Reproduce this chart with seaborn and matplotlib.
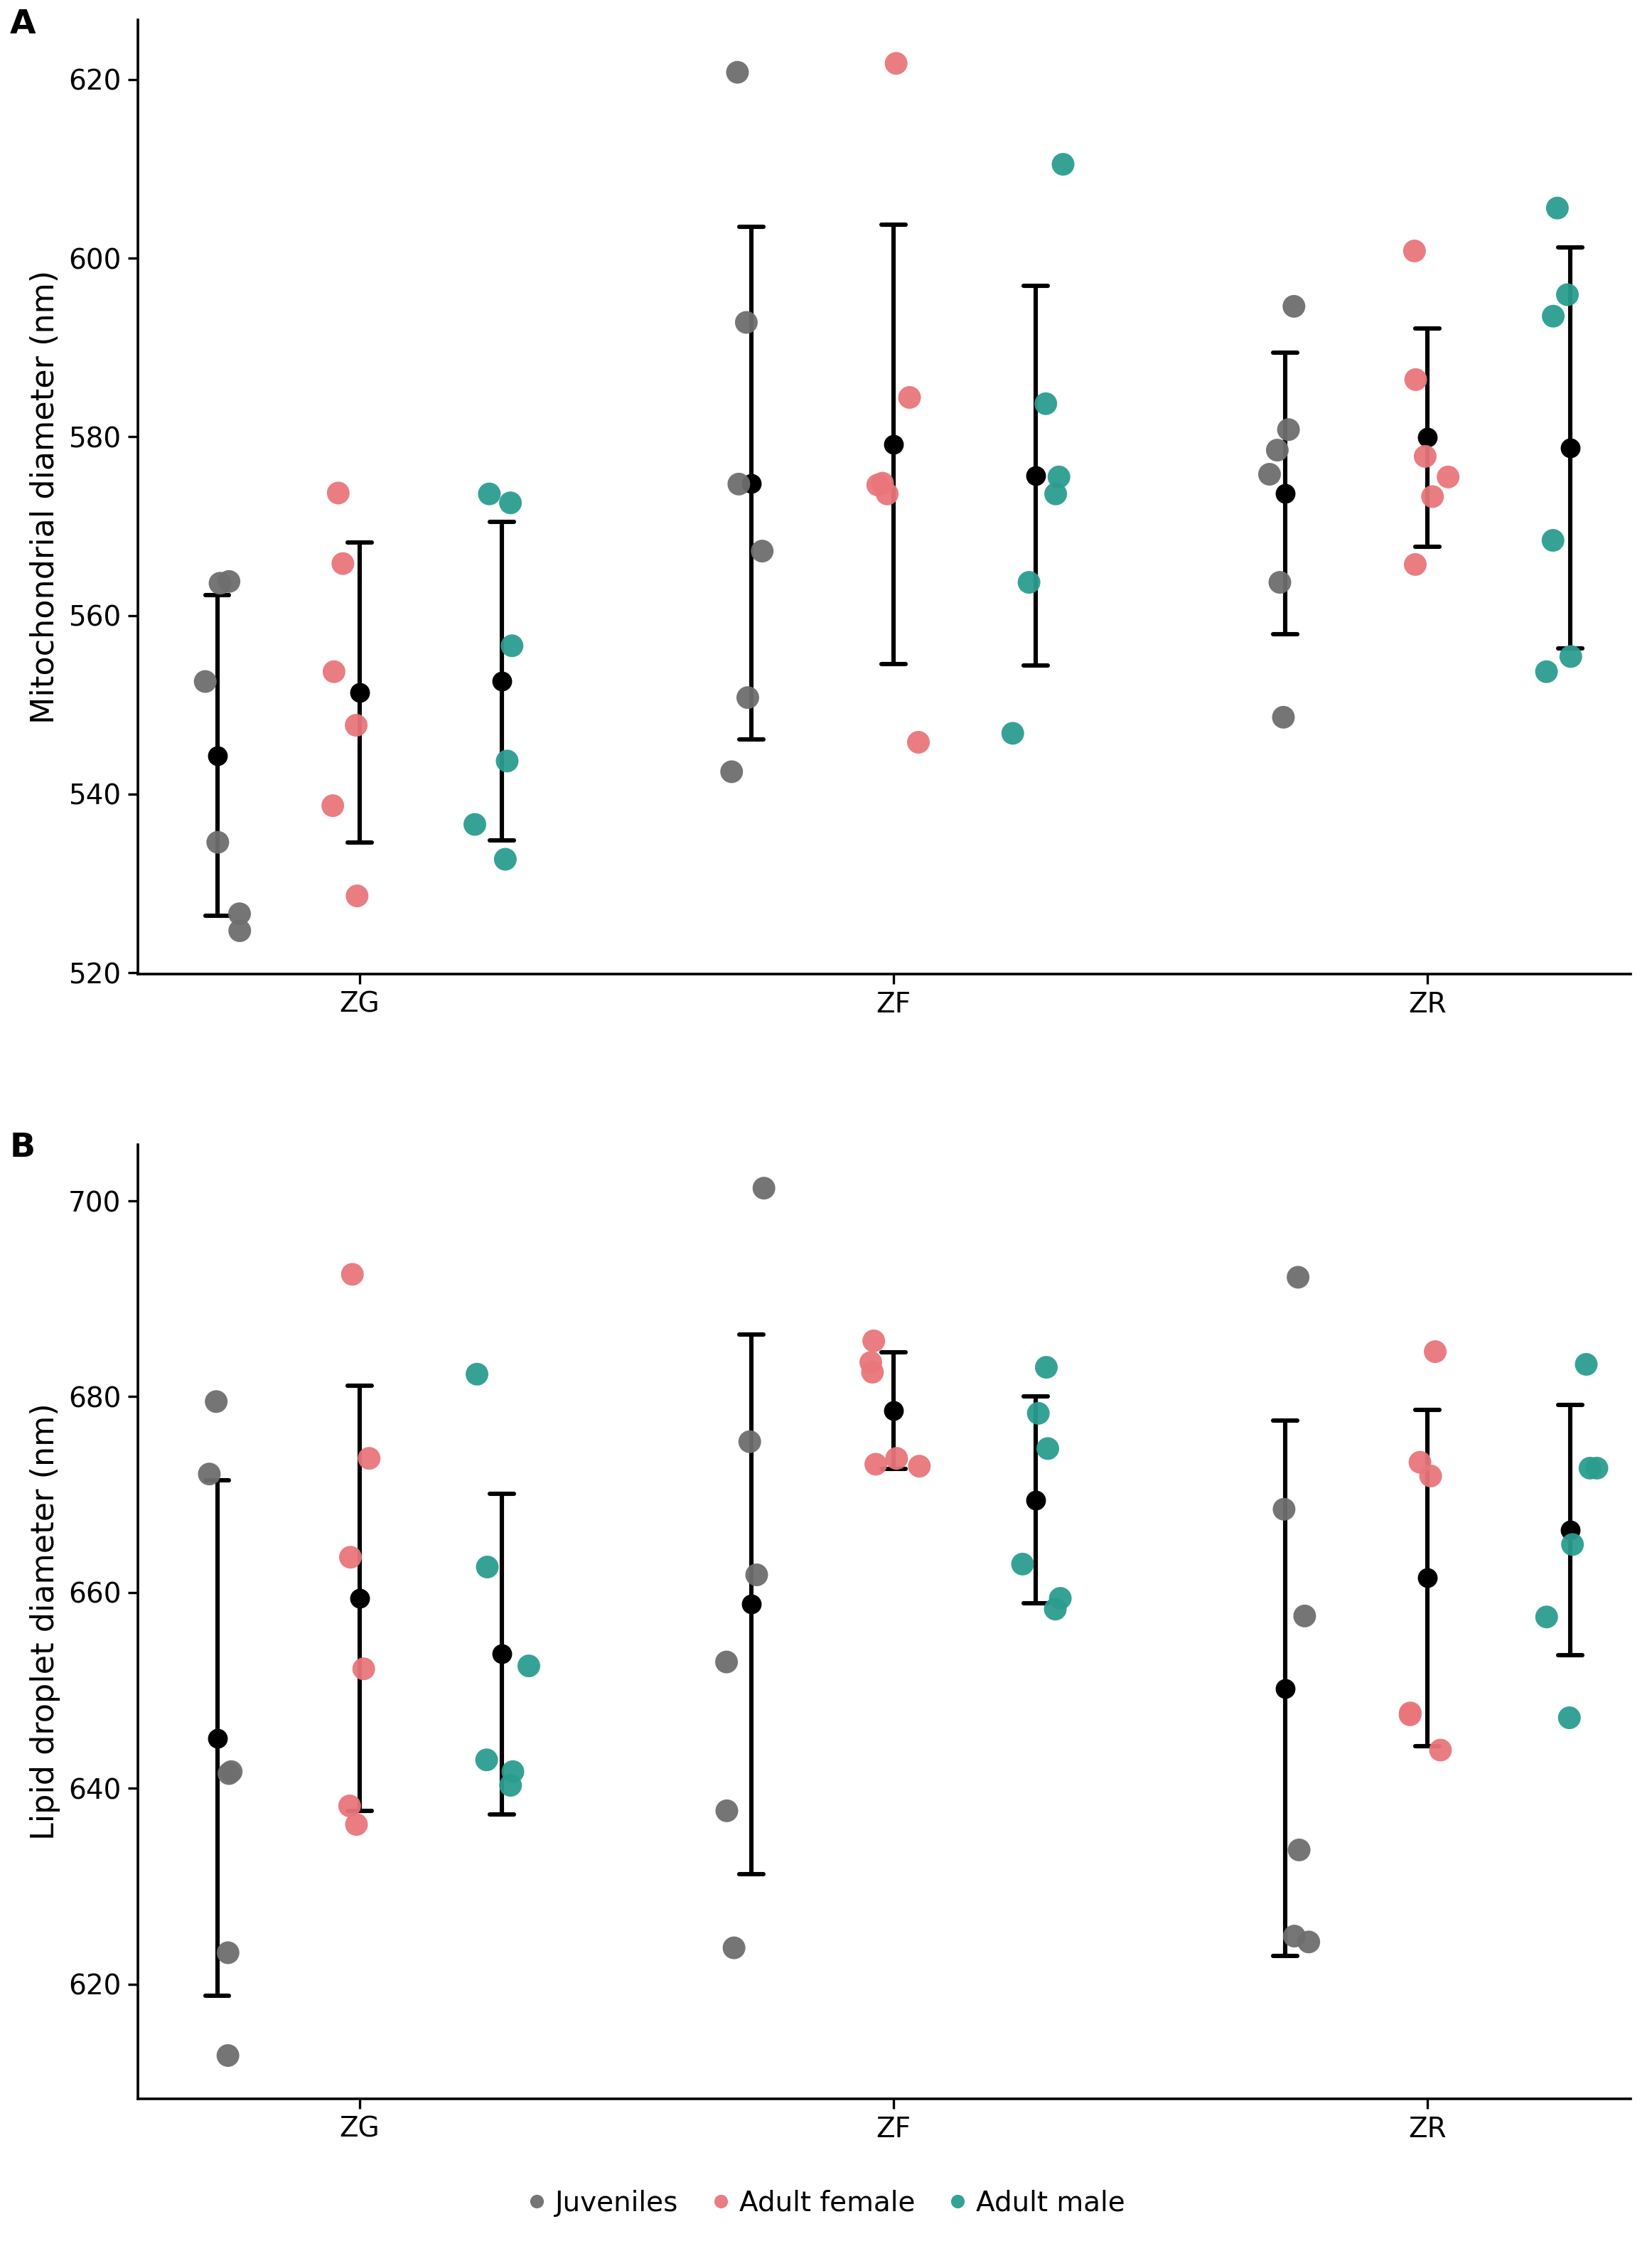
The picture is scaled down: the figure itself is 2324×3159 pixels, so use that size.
import numpy as np
import pandas as pd
import matplotlib.pyplot as plt
import seaborn as sns

sites = ["ZG", "ZF", "ZR"]
groups = ["Juveniles", "Adult female", "Adult male"]
colors = ["#6e6e6e", "#e8767a", "#2a9d8f"]

# mitochondrial diameter (nm), 6 animals per site: ZG, ZF, ZR
mito_juveniles = [563.6, 563.8, 552.6, 534.6, 526.6, 524.7,
                  620.8, 592.8, 574.7, 567.2, 550.8, 542.5,
                  594.6, 580.8, 578.5, 575.8, 563.7, 548.6]
mito_female = [573.7, 565.8, 553.7, 547.7, 538.7, 528.6,
               621.8, 584.4, 574.8, 574.6, 573.6, 545.8,
               600.8, 586.4, 577.8, 575.5, 573.3, 565.7]
mito_male = [572.6, 573.6, 556.6, 543.7, 536.6, 532.7,
             610.5, 583.7, 575.5, 573.6, 563.7, 546.8,
             605.6, 595.9, 593.5, 568.4, 555.4, 553.7]

# lipid droplet diameter (nm)
lipid_juveniles = [679.5, 672.1, 641.5, 641.7, 623.2, 612.7,
                   701.3, 675.4, 661.8, 652.9, 637.7, 623.7,
                   692.2, 668.5, 657.6, 633.7, 624.9, 624.3]
lipid_female = [692.5, 673.7, 663.6, 652.2, 638.2, 636.3,
                685.7, 683.5, 682.5, 673.7, 673.1, 672.9,
                684.6, 673.3, 671.9, 647.7, 647.5, 643.9]
lipid_male = [682.3, 662.6, 652.5, 642.9, 641.7, 640.3,
              683.0, 678.3, 674.7, 662.9, 659.4, 658.3,
              683.3, 672.7, 672.7, 664.9, 657.5, 647.2]


def make_df(juv, fem, male):
    frames = []
    for g, vals in zip(groups, [juv, fem, male]):
        frames.append(pd.DataFrame({"site": np.repeat(sites, 6),
                                    "group": g,
                                    "value": vals}))
    return pd.concat(frames, ignore_index=True)


df_mito = make_df(mito_juveniles, mito_female, mito_male)
df_lipid = make_df(lipid_juveniles, lipid_female, lipid_male)

sns.set_style("ticks")
plt.rcParams['font.family'] = ['DejaVu Sans']
plt.rcParams.update({"text.color": "black", "axes.labelcolor": "black",
                     "xtick.color": "black", "ytick.color": "black",
                     "axes.edgecolor": "black"})

fig = plt.figure(figsize=(11.62, 15.795), dpi=200)
ax_a = fig.add_axes([0.0835, 0.5663, 0.9035, 0.4248])
ax_b = fig.add_axes([0.0835, 0.0655, 0.9035, 0.4248])

np.random.seed(3)
panels = [(ax_a, df_mito, "Mitochondrial diameter (nm)", "A", 0.989),
          (ax_b, df_lipid, "Lipid droplet diameter (nm)", "B", 0.489)]

for ax, df, ylabel, letter, ly in panels:
    sns.stripplot(data=df, x="site", y="value", hue="group", order=sites,
                  hue_order=groups, palette=colors, dodge=True, jitter=0.16,
                  size=11.5, alpha=0.95, linewidth=0, legend=(letter == "B"),
                  ax=ax)
    sns.pointplot(data=df, x="site", y="value", hue="group", order=sites,
                  hue_order=groups, palette=["black"] * 3, dodge=0.5333,
                  errorbar="sd", capsize=0.045, linestyle="none", markers="o",
                  markersize=8, err_kws={"linewidth": 2.2}, legend=False, ax=ax)
    ax.set_xlim(-0.415, 2.38)
    ax.autoscale(axis="y")
    ax.set_xlabel("")
    ax.set_ylabel(ylabel, fontsize=16)
    ax.tick_params(labelsize=14, length=5, width=1.2)
    for s in ["left", "bottom"]:
        ax.spines[s].set_linewidth(1.3)
    sns.despine(ax=ax)
    fig.text(0.006, ly, letter, fontsize=17, fontweight="bold",
             ha="left", va="center")

handles, labels = ax_b.get_legend_handles_labels()
ax_b.get_legend().remove()
fig.legend(handles[:3], labels[:3], loc="center", bbox_to_anchor=(0.5, 0.019),
           ncol=3, frameon=False, fontsize=14, markerscale=0.6,
           handlelength=0.7, handletextpad=0.3, columnspacing=1.2)

fig.savefig("out.png", dpi=200)
